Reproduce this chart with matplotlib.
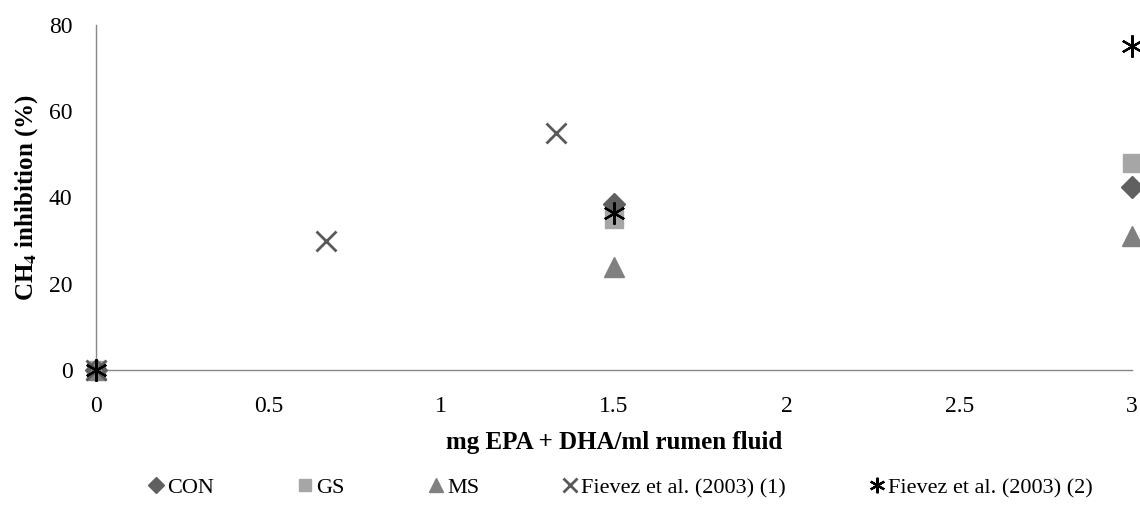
import numpy as np
import matplotlib
matplotlib.use('Agg')
import matplotlib.pyplot as plt

plt.rcParams['font.family'] = ['Liberation Serif', 'DejaVu Serif']
plt.rcParams['mathtext.fontset'] = 'stix'

# data
con_x = [0, 1.5, 3]
con_y = [0, 38.5, 42.5]
gs_x = [0, 1.5, 3]
gs_y = [0, 35, 48]
ms_x = [0, 1.5, 3]
ms_y = [0, 24, 31]
fie1_x = [0, 0.667, 1.333]
fie1_y = [0, 30, 55]
fie2_x = [0, 1.5, 3]
fie2_y = [0, 36.5, 75]

xticks = [0, 0.5, 1, 1.5, 2, 2.5, 3]
xticklabels = ['0', '0.5', '1', '1.5', '2', '2.5', '3']
yticks = [0, 20, 40, 60, 80]

fig = plt.figure(figsize=(11.4, 5.19), dpi=100)
ax = fig.add_axes([0.0842, 0.287, 0.9088, 0.665])

ax.plot(con_x, con_y, 'D', color='#606060', ms=11, ls='none', label='CON', clip_on=False, zorder=3)
ax.plot(gs_x, gs_y, 's', color='#a6a6a6', ms=13, ls='none', label='GS', clip_on=False, zorder=2)
ax.plot(ms_x, ms_y, '^', color='#808080', ms=14, ls='none', label='MS', clip_on=False, zorder=3)
ax.plot(fie1_x, fie1_y, 'x', color='#595959', ms=14, mew=2, ls='none',
        label='Fievez et al. (2003) (1)', clip_on=False, zorder=4)
ax.plot(fie2_x, fie2_y, marker=(6, 2, 0), color='black', ms=16, mew=1.6, ls='none',
        label='Fievez et al. (2003) (2)', clip_on=False, zorder=5)

ax.set_xlim(0, 3)
ax.set_ylim(0, 80)
ax.set_xticks(xticks)
ax.set_xticklabels(xticklabels)
ax.set_yticks(yticks)
ax.tick_params(length=0, labelsize=17)
ax.tick_params(axis='x', pad=19)
ax.tick_params(axis='y', pad=17)

for s in ['top', 'right']:
    ax.spines[s].set_visible(False)
for s in ['left', 'bottom']:
    ax.spines[s].set_color('#888888')
    ax.spines[s].set_linewidth(1)

ax.set_xlabel('mg EPA + DHA/ml rumen fluid', fontsize=18, fontweight='bold', labelpad=10)
ax.set_ylabel('CH$_\\mathbf{4}$ inhibition (%)', fontsize=18, fontweight='bold', labelpad=6)

leg = fig.legend(loc='center', bbox_to_anchor=(0.543, 0.06), ncol=5, frameon=False,
                 fontsize=16, handletextpad=0.0, columnspacing=3.6, markerscale=0.7,
                 handlelength=1.0)

fig.savefig('out.png', dpi=100)
